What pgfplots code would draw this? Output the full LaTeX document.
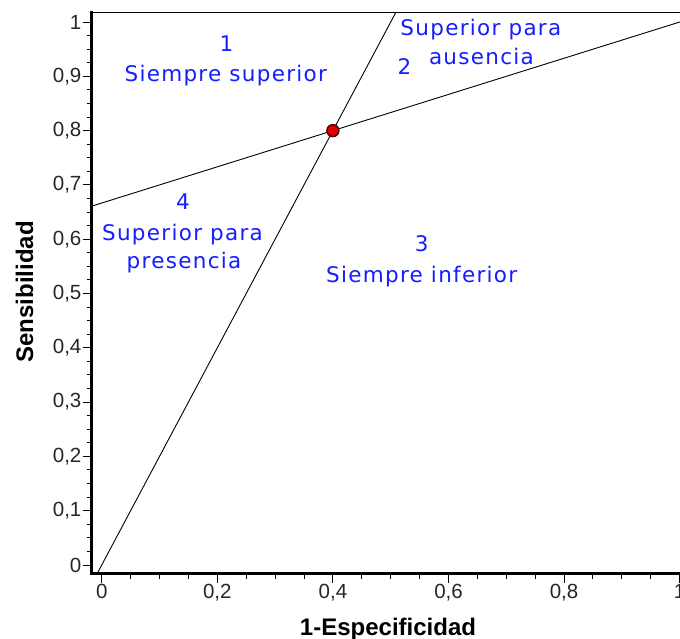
\documentclass[border=0pt]{standalone}
\usepackage{pgfplots}
\pgfplotsset{compat=1.18}
\usepackage{fontspec}
\setmainfont{Liberation Sans}
\newfontfamily\blfont[LetterSpace=6]{DejaVu Sans}
\definecolor{txtblue}{RGB}{20,30,255}
\definecolor{ptred}{RGB}{220,0,0}
\begin{document}
\begin{tikzpicture}
\useasboundingbox (0,0) rectangle (680pt,-639pt);
\clip (0,0) rectangle (680pt,-639pt);
\begin{axis}[
  anchor=south west, at={(91.6pt,-573.7pt)},
  scale only axis, width=598.2pt, height=560.9pt,
  xmin=-0.0175, xmax=1.0175, ymin=-0.016, ymax=1.017,
  axis x line*=bottom, axis y line*=left,
  axis line style={line width=3pt, -, line cap=rect},
  xtick={0,0.2,0.4,0.6,0.8,1},
  xticklabels={0,{0,2},{0,4},{0,6},{0,8},1},
  ytick={0,0.1,0.2,0.3,0.4,0.5,0.6,0.7,0.8,0.9,1},
  yticklabels={0,{0,1},{0,2},{0,3},{0,4},{0,5},{0,6},{0,7},{0,8},{0,9},1},
  minor tick num=3,
  tick align=outside,
  major tick length=9pt, minor tick length=5pt,
  tick style={black, line width=1pt},
  ticklabel style={font=\fontsize{20.5}{24}\selectfont, text=black!85, inner sep=1pt},
  clip=false,
]
% lines
\addplot[black, line width=0.9pt] coordinates {(-0.008,-0.016) (0.5085,1.017)};
\addplot[black, line width=0.9pt] coordinates {(-0.0175,0.66083) (1.0175,1.00583)};
% point
\addplot[only marks, mark=*, mark size=6pt, mark options={fill=ptred, draw=black!70!red, line width=1.4pt}] coordinates {(0.4,0.8)};
% frame top
\draw[line width=1pt] (rel axis cs:0,1) -- (rel axis cs:1,1);
\draw[line width=1pt] (rel axis cs:1,0) -- (rel axis cs:1,1);
% region labels
\tikzset{reg/.style={font=\blfont\fontsize{21.5}{26}\selectfont, text=txtblue, anchor=base, inner sep=0pt}}
\node[reg] at (axis cs:0.216,0.9466) {1};
\node[reg] at (axis cs:0.2147,0.890) {Siempre superior};
\node[reg] at (axis cs:0.656,0.976) {Superior para};
\node[reg] at (axis cs:0.657,0.921) {ausencia};
\node[reg] at (axis cs:0.524,0.904) {2};
\node[reg] at (axis cs:0.1407,0.654) {4};
\node[reg] at (axis cs:0.1398,0.5985) {Superior para};
\node[reg] at (axis cs:0.1424,0.547) {presencia};
\node[reg] at (axis cs:0.5536,0.578) {3};
\node[reg] at (axis cs:0.5536,0.5212) {Siempre inferior};
\end{axis}
\node[font=\bfseries\fontsize{24}{28}\selectfont, anchor=base, inner sep=0pt] at (388pt,-635pt) {1-Especificidad};
\node[font=\bfseries\fontsize{24}{28}\selectfont, anchor=base, rotate=90, inner sep=0pt] at (33pt,-292pt) {Sensibilidad};
\end{tikzpicture}
\end{document}
